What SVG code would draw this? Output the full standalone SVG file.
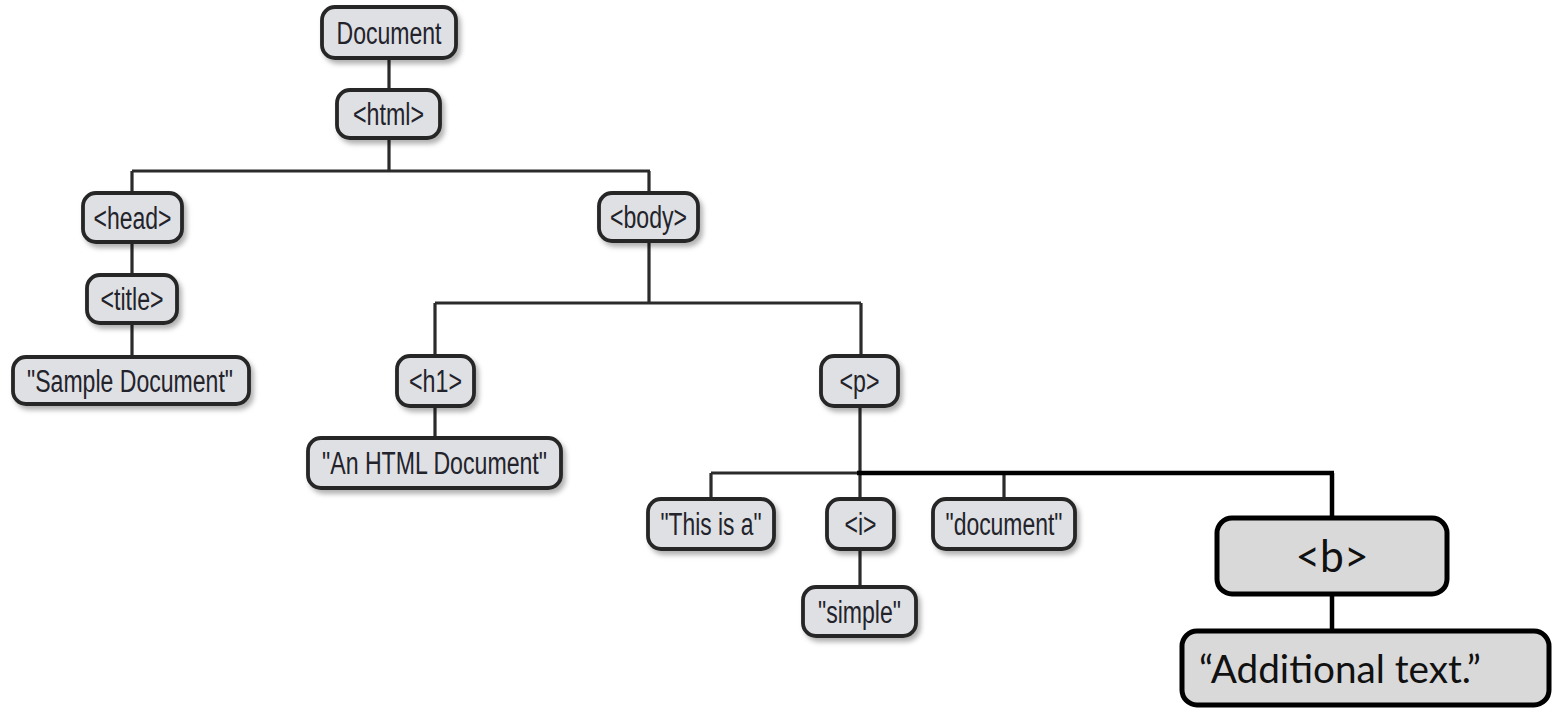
<svg xmlns="http://www.w3.org/2000/svg" width="1558" height="708" viewBox="0 0 1558 708">
<defs>
<filter id="sh" x="-10%" y="-20%" width="125%" height="150%">
<feDropShadow dx="3" dy="4" stdDeviation="2.5" flood-color="#000" flood-opacity="0.3"/>
</filter>
<style>
.n rect{fill:#dfe0e3;stroke:#262626;stroke-width:3.8;filter:url(#sh)}
.n text{font-family:"Liberation Sans",Arial,sans-serif;font-size:31px;fill:#23232b;text-anchor:middle}
.m rect{fill:#d9d9d9;stroke:#000;stroke-width:5}
.m text{font-family:Lato,"Open Sans","Liberation Sans",sans-serif;font-size:38px;fill:#111;text-anchor:middle}
.m text.big{font-size:44px}
.c{stroke:#2b2b2b;stroke-width:3.2;fill:none}
.t{stroke:#000;stroke-width:4.5;fill:none}
</style>
</defs>
<g id="connectors">
<path class="c" d="M389 58V90M389 138V171M132 171H650M132 171V193M649 171V193M132 242V275M132 323V357M649 240V303M435 303H861M435 303V356M861 303V356M435 406V438M860 406V499M711 473H860M711 473V499M860 549V587M1004 473V499"/>
<path class="t" d="M857 473H1334M1332 473V518M1332 594V631"/>
</g>
<g id="document" class="n"><rect x="322" y="7" width="134" height="51" rx="13"/><text x="389" y="43.5" textLength="105" lengthAdjust="spacingAndGlyphs">Document</text></g>
<g id="html" class="n"><rect x="337" y="90" width="103" height="48" rx="13"/><text x="388.5" y="125" textLength="71" lengthAdjust="spacingAndGlyphs">&lt;html&gt;</text></g>
<g id="head" class="n"><rect x="83" y="193" width="99" height="49" rx="13"/><text x="132.5" y="228.5" textLength="78" lengthAdjust="spacingAndGlyphs">&lt;head&gt;</text></g>
<g id="body" class="n"><rect x="599" y="193" width="99" height="48" rx="13"/><text x="648.5" y="228" textLength="77" lengthAdjust="spacingAndGlyphs">&lt;body&gt;</text></g>
<g id="title" class="n"><rect x="87" y="275" width="90" height="48" rx="13"/><text x="132" y="310" textLength="63" lengthAdjust="spacingAndGlyphs">&lt;title&gt;</text></g>
<g id="sample" class="n"><rect x="13" y="357" width="236" height="47" rx="13"/><text x="130" y="392" textLength="206" lengthAdjust="spacingAndGlyphs">"Sample Document"</text></g>
<g id="h1" class="n"><rect x="397" y="356" width="77" height="50" rx="13"/><text x="435.5" y="392" textLength="53" lengthAdjust="spacingAndGlyphs">&lt;h1&gt;</text></g>
<g id="p" class="n"><rect x="821" y="356" width="77" height="50" rx="13"/><text x="859.5" y="392" textLength="40" lengthAdjust="spacingAndGlyphs">&lt;p&gt;</text></g>
<g id="htmldoc" class="n"><rect x="308" y="438" width="253" height="50" rx="13"/><text x="434.5" y="474" textLength="225" lengthAdjust="spacingAndGlyphs">"An HTML Document"</text></g>
<g id="thisisa" class="n"><rect x="648" y="499" width="126" height="50" rx="13"/><text x="711" y="535" textLength="101" lengthAdjust="spacingAndGlyphs">"This is a"</text></g>
<g id="i" class="n"><rect x="827" y="499" width="67" height="50" rx="13"/><text x="860.5" y="535" textLength="32" lengthAdjust="spacingAndGlyphs">&lt;i&gt;</text></g>
<g id="documenttext" class="n"><rect x="933" y="499" width="142" height="50" rx="13"/><text x="1004" y="535" textLength="117" lengthAdjust="spacingAndGlyphs">"document"</text></g>
<g id="simple" class="n"><rect x="803" y="587" width="113" height="49" rx="13"/><text x="859.5" y="622.5" textLength="83" lengthAdjust="spacingAndGlyphs">"simple"</text></g>
<g id="b" class="m"><rect x="1217" y="518" width="230" height="76" rx="15"/><text class="big" x="1332" y="572" textLength="73" lengthAdjust="spacingAndGlyphs">&lt;b&gt;</text></g>
<g id="additional" class="m"><rect x="1182" y="631" width="367" height="74" rx="15"/><text x="1340" y="683" textLength="282" lengthAdjust="spacingAndGlyphs">“Additional text.”</text></g>
</svg>
